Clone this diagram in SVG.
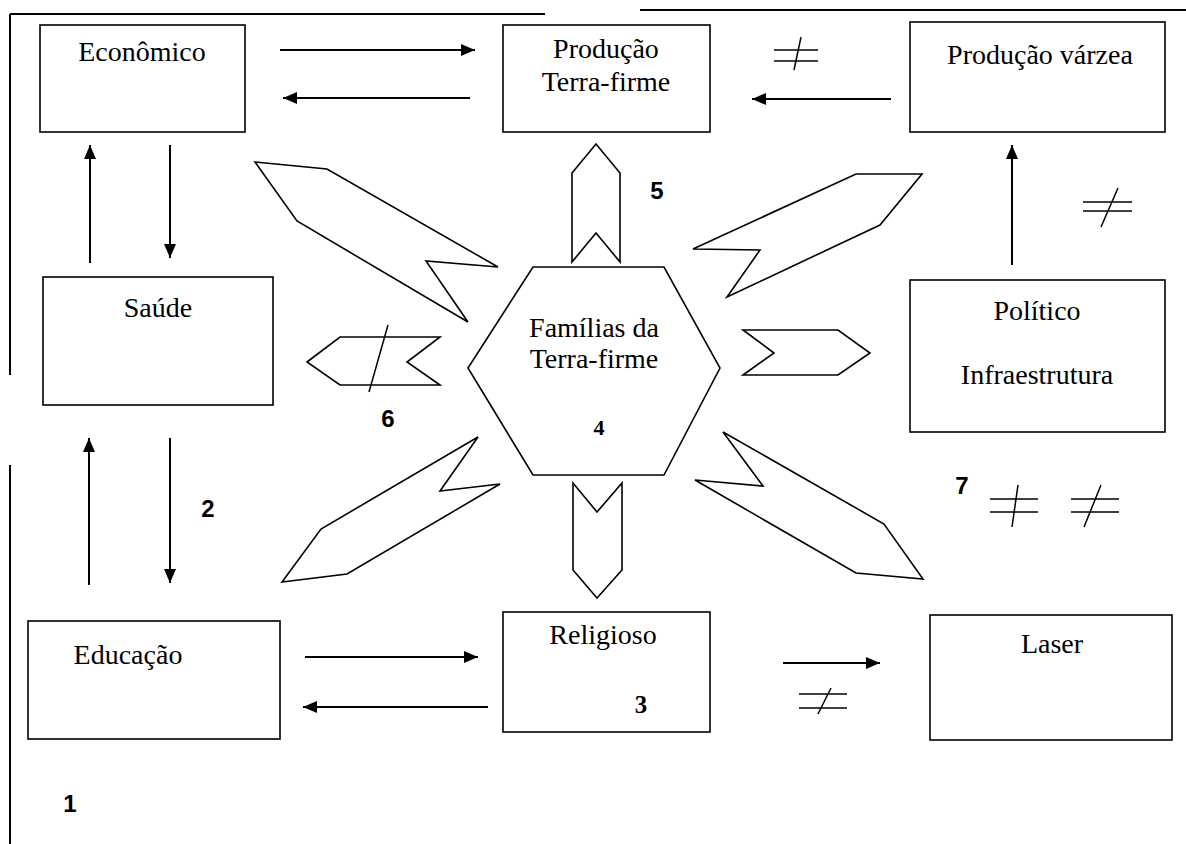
<svg xmlns="http://www.w3.org/2000/svg" width="1186" height="844" viewBox="0 0 1186 844">
<style>
.box{fill:#fff;stroke:#000;stroke-width:1.6}
.shp{fill:#fff;stroke:#000;stroke-width:1.6;stroke-linejoin:miter}
.ln{stroke:#000;stroke-width:2;fill:none}
.thin{stroke:#000;stroke-width:1.5;fill:none}
.t{font-family:"Liberation Serif","Times New Roman",serif;font-size:28px;fill:#000;text-anchor:middle}
.n{font-family:"Liberation Sans",Arial,sans-serif;font-size:24px;font-weight:bold;fill:#000;text-anchor:middle}
.nb{font-family:"Liberation Serif","Times New Roman",serif;font-size:25px;font-weight:bold;fill:#000;text-anchor:middle}
</style>
<defs>
<marker id="ah" viewBox="0 0 14 12" refX="14" refY="6" markerWidth="14" markerHeight="12" markerUnits="userSpaceOnUse" orient="auto">
<path d="M0,0 L14,6 L0,12 Z" fill="#000"/>
</marker>
</defs>
<rect width="1186" height="844" fill="#fff"/>
<g id="frame">
<line class="ln" x1="10" y1="14" x2="545" y2="14"/>
<line class="ln" x1="640" y1="10" x2="1186" y2="10"/>
<line class="ln" x1="10" y1="14" x2="10" y2="375"/>
<line class="ln" x1="10" y1="465" x2="10" y2="844"/>
</g>
<g id="economico"><rect class="box" x="40" y="25" width="205" height="107"/><text class="t" x="142" y="61">Econômico</text></g>
<g id="producao-terra-firme"><rect class="box" x="503" y="25" width="207" height="107"/><text class="t" x="606" y="58">Produção</text><text class="t" x="606" y="91">Terra-firme</text></g>
<g id="producao-varzea"><rect class="box" x="910" y="22" width="255" height="110"/><text class="t" x="1040" y="64">Produção várzea</text></g>
<g id="saude"><rect class="box" x="43" y="277" width="230" height="128"/><text class="t" x="158" y="317">Saúde</text></g>
<g id="politico"><rect class="box" x="910" y="280" width="255" height="152"/><text class="t" x="1037" y="320">Político</text><text class="t" x="1037" y="384">Infraestrutura</text></g>
<g id="educacao"><rect class="box" x="28" y="621" width="252" height="118"/><text class="t" x="128" y="664">Educação</text></g>
<g id="religioso"><rect class="box" x="503" y="612" width="207" height="120"/><text class="t" x="603" y="644">Religioso</text></g>
<g id="laser"><rect class="box" x="930" y="615" width="242" height="125"/><text class="t" x="1052" y="653">Laser</text></g>
<g id="familias"><polygon class="shp" points="533,267 664,267 720,368 664,475 533,475 468,368"/><text class="t" x="594" y="337">Famílias da</text><text class="t" x="594" y="368">Terra-firme</text></g>
<g id="connectors">
<line class="ln" x1="280" y1="50" x2="475" y2="50" marker-end="url(#ah)"/>
<line class="ln" x1="470" y1="98" x2="283" y2="98" marker-end="url(#ah)"/>
<line class="ln" x1="891" y1="99" x2="752" y2="99" marker-end="url(#ah)"/>
<line class="ln" x1="1012" y1="265" x2="1012" y2="145" marker-end="url(#ah)"/>
<line class="ln" x1="90" y1="263" x2="90" y2="145" marker-end="url(#ah)"/>
<line class="ln" x1="170" y1="145" x2="170" y2="258" marker-end="url(#ah)"/>
<line class="ln" x1="89" y1="585" x2="89" y2="438" marker-end="url(#ah)"/>
<line class="ln" x1="170" y1="438" x2="170" y2="583" marker-end="url(#ah)"/>
<line class="ln" x1="305" y1="657" x2="478" y2="657" marker-end="url(#ah)"/>
<line class="ln" x1="488" y1="707" x2="303" y2="707" marker-end="url(#ah)"/>
<line class="ln" x1="783" y1="663" x2="880" y2="663" marker-end="url(#ah)"/>
<polygon class="shp" points="255,162 327,169 498,267 426,261 468,322 297,221"/>
<polygon class="shp" points="856,174 922,174 880,225 727,297 760,250 693,249"/>
<polygon class="shp" points="478,437 440,491 500,484 347,574 282,582 321,529"/>
<polygon class="shp" points="723,432 763,486 695,480 856,573 923,579 884,524"/>
<polygon class="shp" points="572,262 572,173 596,144 620,173 620,262 596,233"/>
<polygon class="shp" points="573,483 597,512 622,483 622,570 597,598 573,570"/>
<polygon class="shp" points="307,362 340,337 440,337 407,362 440,385 340,385"/>
<line class="thin" x1="388" y1="325" x2="369" y2="392"/>
<polygon class="shp" points="743,330 838,330 870,353 838,375 743,375 774,353"/>
</g>
<g id="neq">
<path class="thin" d="M774,50 H818 M774,61 H818 M801,37 L794,70"/>
<path class="thin" d="M1083,202 H1132 M1083,211 H1132 M1118,188 L1101,227"/>
<path class="thin" d="M990,499 H1038 M990,512 H1038 M1018,485 L1012,527"/>
<path class="thin" d="M1071,499 H1119 M1071,512 H1119 M1101,485 L1084,527"/>
<path class="thin" d="M799,694 H847 M799,708 H847 M831,688 L818,714"/>
</g>
<g id="labels">
<text class="n" x="70" y="812">1</text>
<text class="n" x="208" y="517">2</text>
<text class="nb" x="641" y="713">3</text>
<text class="nb" x="599" y="435" style="font-size:22px">4</text>
<text class="n" x="657" y="199">5</text>
<text class="n" x="388" y="427">6</text>
<text class="n" x="962" y="494">7</text>
</g>
</svg>
